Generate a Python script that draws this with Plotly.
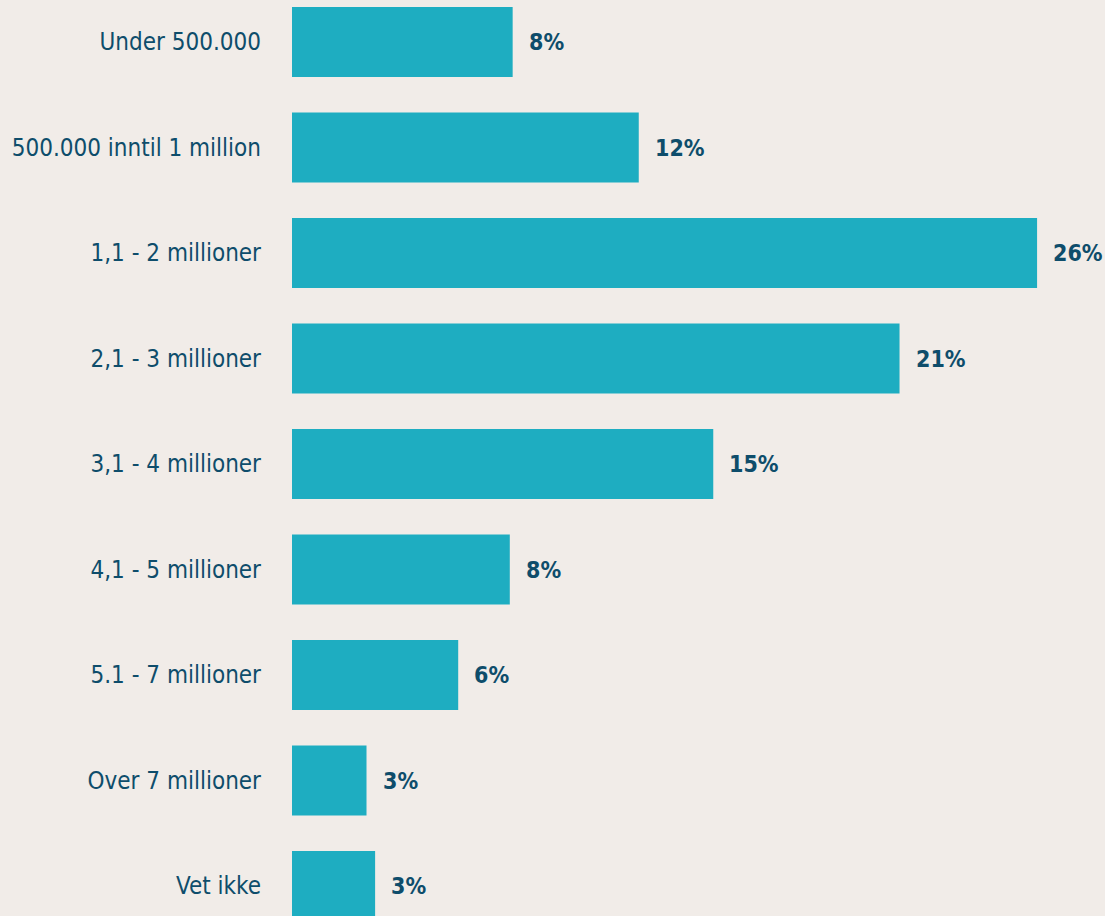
import plotly.graph_objects as go

# Survey answers: expected amount, share of respondents (%)
categories = [
    "Under 500.000",
    "500.000 inntil 1 million",
    "1,1 - 2 millioner",
    "2,1 - 3 millioner",
    "3,1 - 4 millioner",
    "4,1 - 5 millioner",
    "5.1 - 7 millioner",
    "Over 7 millioner",
    "Vet ikke",
]
shares = [7.7, 12.1, 26.0, 21.2, 14.7, 7.6, 5.8, 2.6, 2.9]

BG = "#F1ECE8"
BAR = "#1EADC1"
INK = "#0E4D6B"
FONT = "DejaVu Sans Condensed, Liberation Sans Narrow, sans-serif"

ypos = list(range(len(categories)))

fig = go.Figure(
    go.Bar(
        x=shares,
        y=ypos,
        orientation="h",
        marker=dict(color=BAR, line=dict(width=0)),
        width=0.665,
        hoverinfo="skip",
    )
)

for y, v in zip(ypos, shares):
    fig.add_annotation(
        x=v, y=y, text=f"<b>{v:.0f}%</b>", showarrow=False,
        xanchor="left", yanchor="middle", xshift=14,
        font=dict(family=FONT, size=23, color=INK),
    )

fig.update_layout(
    width=1105, height=916,
    margin=dict(l=292, r=0, t=0, b=0),
    paper_bgcolor=BG, plot_bgcolor=BG,
    showlegend=False,
    font=dict(family=FONT, color=INK),
    xaxis=dict(range=[0, 28.37], visible=False, fixedrange=True),
    yaxis=dict(
        range=[8.284, -0.398],
        tickvals=ypos, ticktext=categories,
        showgrid=False, zeroline=False, showline=False,
        ticks="", ticklabelstandoff=30, automargin=False,
        tickfont=dict(family=FONT, size=24, color=INK),
        fixedrange=True,
    ),
)

fig.write_html("out.html")
